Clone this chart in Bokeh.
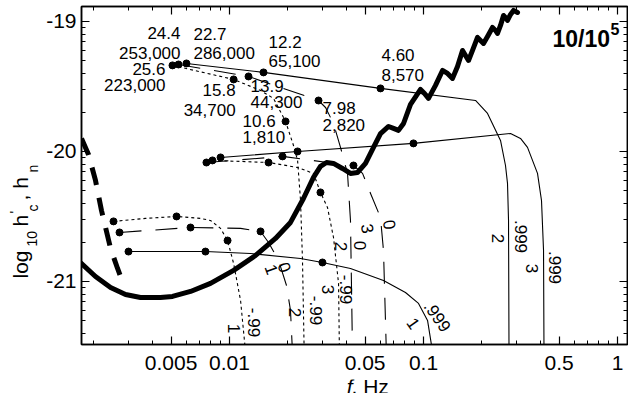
import math
from bokeh.plotting import figure
from bokeh.layouts import row, column
from bokeh.models import (FixedTicker, LinearAxis, LogAxis, Label, Range1d,
                          CustomJSTickFormatter)
from bokeh.embed import file_html
from bokeh.resources import INLINE

# ---------------- data (f in Hz, log10 h) ----------------
# detector sensitivity curve (thick solid)
noise_f = [0.001726, 0.002038, 0.002437, 0.002911, 0.003475, 0.004406, 0.005082, 0.006295,
           0.007979, 0.0105, 0.01362, 0.01726, 0.02062, 0.02405, 0.0271, 0.02943, 0.03162,
           0.03436, 0.03821, 0.04203, 0.04567, 0.05023, 0.05523, 0.06001, 0.06603, 0.07006,
           0.0743, 0.07889, 0.0857, 0.0965, 0.1012, 0.1061, 0.1153, 0.1253, 0.133, 0.1411,
           0.1497, 0.1589, 0.1646, 0.1706, 0.1789, 0.1898, 0.1967, 0.2038, 0.2138, 0.2268,
           0.235, 0.2406, 0.2494, 0.2585, 0.2646, 0.271, 0.2809, 0.2911, 0.3052]
noise_h = [-20.862, -20.962, -21.046, -21.1, -21.123, -21.123, -21.115, -21.077,
           -21.015, -20.915, -20.8, -20.669, -20.546, -20.362, -20.2, -20.115, -20.085,
           -20.092, -20.131, -20.169, -20.162, -20.092, -19.969, -19.862, -19.808, -19.823,
           -19.838, -19.785, -19.638, -19.523, -19.554, -19.592, -19.492, -19.377, -19.4, -19.438,
           -19.346, -19.223, -19.262, -19.3, -19.223, -19.123, -19.146, -19.169, -19.115, -19.046,
           -19.069, -19.092, -19.031, -18.954, -18.969, -18.992, -18.946, -18.915, -18.931]

# confusion noise (thick dashed)
wd_f = [0.001726, 0.001875, 0.002038, 0.002188, 0.002437, 0.002648, 0.002807]
wd_h = [-19.9, -20.023, -20.223, -20.454, -20.746, -20.9, -21.0]

# harmonic n, spin a (.999 solid, 0 long dash, -.99 dotted)
n1_a999_f = [0.003015, 0.007516, 0.01283, 0.02323, 0.03013, 0.04203, 0.06219, 0.08072, 0.09425, 0.1049, 0.1130]
n1_a999_h = [-20.77, -20.77, -20.785, -20.823, -20.854, -20.90, -20.992, -21.085, -21.169, -21.30, -21.60]
n1_a0_f = [0.00271, 0.006295, 0.0114, 0.01445, 0.01589, 0.0179, 0.01967, 0.02062, 0.0212]
n1_a0_h = [-20.623, -20.585, -20.592, -20.615, -20.70, -20.838, -21.031, -21.223, -21.60]
n1_am99_f = [0.002524, 0.003689, 0.005333, 0.007096, 0.007979, 0.00899, 0.009772, 0.0105, 0.0114, 0.0122]
n1_am99_h = [-20.538, -20.515, -20.50, -20.515, -20.531, -20.592, -20.685, -20.862, -21.146, -21.60]

n2_a999_f = [0.005998, 0.01497, 0.06001, 0.1854, 0.2138, 0.2494, 0.2646, 0.271, 0.2743, 0.2760]
n2_a999_h = [-19.323, -19.392, -19.515, -19.608, -19.708, -19.915, -20.108, -20.246, -20.531, -21.60]
n2_a0_f = [0.005458, 0.01253, 0.02876, 0.03126, 0.03436, 0.03733, 0.04058, 0.04203, 0.0431]
n2_a0_h = [-19.331, -19.423, -19.608, -19.662, -19.785, -19.969, -20.169, -20.531, -21.60]
n2_am99_f = [0.005082, 0.0105, 0.01445, 0.01686, 0.01945, 0.02137, 0.02243, 0.02323, 0.02378, 0.0243]
n2_am99_h = [-19.338, -19.446, -19.531, -19.592, -19.769, -19.954, -20.069, -20.377, -20.838, -21.60]

n3_a999_f = [0.00899, 0.02243, 0.08875, 0.2809, 0.3162, 0.3436, 0.3869, 0.4057, 0.4156, 0.418]
n3_a999_h = [-20.046, -20.0, -19.938, -19.862, -19.90, -19.969, -20.169, -20.377, -20.762, -21.60]
n3_a0_f = [0.007603, 0.01876, 0.03199, 0.04356, 0.0485, 0.05333, 0.06001, 0.06219, 0.0645]
n3_a0_h = [-20.085, -20.038, -20.085, -20.108, -20.169, -20.323, -20.508, -20.762, -21.60]
n3_am99_f = [0.008166, 0.01589, 0.02243, 0.0271, 0.02943, 0.03199, 0.03436, 0.03648, 0.0369]
n3_am99_h = [-20.069, -20.085, -20.123, -20.169, -20.315, -20.431, -20.662, -21.015, -21.60]

# which points of each track carry a dot
n1_a999_dots = [0, 1, 4]
n1_a0_dots = [0, 1, 3]
n1_am99_dots = [0, 2, 6]
n2_a999_dots = [0, 1, 2]
n2_a0_dots = [0, 1, 2]
n2_am99_dots = [0, 1, 4]
n3_a999_dots = [0, 1, 2]
n3_a0_dots = [0, 1, 3]
n3_am99_dots = [0, 1, 4]

# dot annotations of the n=2 tracks (years, cycles)
n2_a999_time = ["22.7", "12.2", "4.60"]
n2_a999_cycles = ["286,000", "65,100", "8,570"]
n2_a0_time = ["24.4", "13.9", "7.98"]
n2_a0_cycles = ["253,000", "44,300", "2,820"]
n2_am99_time = ["25.6", "15.8", "10.6"]
n2_am99_cycles = ["223,000", "34,700", "1,810"]

x_ticks = [0.005, 0.01, 0.05, 0.1, 0.5, 1]
y_ticks = [-21, -20, -19]
title_text = "10/10"
title_sup = "5"

# ---------------- layout ----------------
W, H = 628, 393
YLAB_W = 40          # strip holding the y-axis title
XLAB_H = 14          # strip holding the x-axis title
MAIN_H = H - XLAB_H
L, R, T, B = 81, 627, 6, 344      # frame edges in page pixels
LX0, LX1 = -2.763, 0.0515
Y0, Y1 = -21.485, -18.885
FONT = "Liberation Sans"


def px2f(px):
    return 10 ** (LX0 + (px - L) / (R - L) * (LX1 - LX0))


def py2h(py):
    return Y1 - (py - T) / (B - T) * (Y1 - Y0)


p = figure(width=W - YLAB_W, height=MAIN_H, x_axis_type="log",
           x_range=Range1d(10 ** LX0, 10 ** LX1), y_range=Range1d(Y0, Y1),
           output_backend="svg", toolbar_location=None, frame_align=False,
           min_border_left=L - YLAB_W, min_border_right=W - R,
           min_border_top=T, min_border_bottom=MAIN_H - B)
p.grid.visible = False
p.outline_line_color = "black"
p.outline_line_width = 1.5
p.background_fill_color = "white"
p.border_fill_color = "white"

x_minor = [k * 10.0 ** d for d in (-3, -2, -1, 0) for k in range(1, 10)]
y_minor = [d + math.log10(k) for d in (-22, -21, -20, -19) for k in range(2, 10)]


def style(ax):
    ax.axis_line_width = 1.5
    ax.axis_line_color = "black"
    ax.major_tick_in = 8
    ax.major_tick_out = 0
    ax.minor_tick_in = 4
    ax.minor_tick_out = 0
    ax.major_tick_line_width = 1.2
    ax.minor_tick_line_width = 1
    ax.major_label_text_font = FONT
    ax.major_label_text_font_size = "21px"
    ax.major_label_text_color = "black"


xa = p.xaxis[0]
style(xa)
xa.ticker = FixedTicker(ticks=x_ticks, minor_ticks=x_minor)
xa.formatter = CustomJSTickFormatter(code="return tick.toString()")
xa.major_label_standoff = 11

ya = p.yaxis[0]
style(ya)
ya.ticker = FixedTicker(ticks=y_ticks, minor_ticks=y_minor)
ya.formatter = CustomJSTickFormatter(code="return tick.toString()")
ya.major_label_standoff = 5

top = LogAxis(ticker=FixedTicker(ticks=x_ticks, minor_ticks=x_minor),
              formatter=CustomJSTickFormatter(code="return ''"))
style(top)
top.major_label_text_font_size = "0px"
top.major_label_standoff = 0
p.add_layout(top, "above")

right = LinearAxis(ticker=FixedTicker(ticks=y_ticks, minor_ticks=y_minor),
                   formatter=CustomJSTickFormatter(code="return ''"))
style(right)
right.major_label_text_font_size = "0px"
right.major_label_standoff = 0
p.add_layout(right, "right")

# ---------------- marks ----------------
p.line(noise_f, noise_h, line_width=5, color="black", line_join="round", line_cap="round")
p.line(wd_f, wd_h, line_width=5, color="black", line_dash="18 13")

dash = {"a999": "solid", "a0": "22 14", "am99": "3 3"}
tracks = [
    (n1_a999_f, n1_a999_h, n1_a999_dots, "a999"),
    (n1_a0_f, n1_a0_h, n1_a0_dots, "a0"),
    (n1_am99_f, n1_am99_h, n1_am99_dots, "am99"),
    (n2_a999_f, n2_a999_h, n2_a999_dots, "a999"),
    (n2_a0_f, n2_a0_h, n2_a0_dots, "a0"),
    (n2_am99_f, n2_am99_h, n2_am99_dots, "am99"),
    (n3_a999_f, n3_a999_h, n3_a999_dots, "a999"),
    (n3_a0_f, n3_a0_h, n3_a0_dots, "a0"),
    (n3_am99_f, n3_am99_h, n3_am99_dots, "am99"),
]
for fs, hs, idx, kind in tracks:
    p.line(fs, hs, line_width=1.1, color="black", line_dash=dash[kind])
    p.scatter([fs[i] for i in idx], [hs[i] for i in idx], size=7, color="black")

# dot annotations (pixel offsets: dx, dy line1, dy line2, align)
ann_sets = [
    (n2_a999_f, n2_a999_h, n2_a999_dots, n2_a999_time, n2_a999_cycles,
     [(7, -29, -10, "left"), (5, -30, -11, "left"), (1, -33, -13, "left")]),
    (n2_a0_f, n2_a0_h, n2_a0_dots, n2_a0_time, n2_a0_cycles,
     [(2, -31, -11, "right"), (2, 10, 26, "left"), (4, 8, 25, "left")]),
    (n2_am99_f, n2_am99_h, n2_am99_dots, n2_am99_time, n2_am99_cycles,
     [(-7, 4, 20, "right"), (2, 11, 31, "right"), (-43, 0, 16, "left")]),
]
for fs, hs, idx, times, cycles, offs in ann_sets:
    for j, i in enumerate(idx):
        dx, d1, d2, al = offs[j]
        for txt, dy in ((times[j], d1), (cycles[j], d2)):
            p.add_layout(Label(x=fs[i], y=hs[i], x_offset=dx, y_offset=-dy, text=txt,
                               text_font=FONT, text_font_size="17px", text_align=al,
                               text_baseline="middle", text_color="black"))

# curve labels (harmonic / spin), placed in page pixels
curve_labels = [
    (".999", 437, 316, -55), ("1", 413, 323, -55),
    ("2", 497, 238, -90), (".999", 520, 236, -90),
    ("3", 531, 268, -90), (".999", 554, 267, -90),
    ("3", 367, 228, -80), ("0", 389, 224, -80),
    ("2", 340, 246, -90), ("0", 359, 245, -90),
    ("3", 327, 289, -90), ("-.99", 345, 289, -90),
    ("2", 294, 312, -90), ("-.99", 315, 310, -90),
    ("1", 233, 328, -90), ("-.99", 253, 322, -90),
    ("1", 271, 269, -70), ("0", 284, 267, -70),
]
for txt, px, py, ang in curve_labels:
    p.add_layout(Label(x=px2f(px), y=py2h(py), text=txt, angle=math.radians(ang),
                       text_font=FONT, text_font_size="17px", text_align="center",
                       text_baseline="middle", text_color="black"))

# panel title 10/10^5
p.add_layout(Label(x=px2f(552), y=py2h(38), text=title_text, text_font=FONT,
                   text_font_size="23px", text_font_style="bold", text_align="left",
                   text_baseline="middle", text_color="black"))
p.add_layout(Label(x=px2f(610), y=py2h(28), text=title_sup, text_font=FONT,
                   text_font_size="16px", text_font_style="bold", text_align="left",
                   text_baseline="middle", text_color="black"))


def strip(w, h):
    f = figure(width=w, height=h, x_range=Range1d(0, w), y_range=Range1d(0, h),
               x_axis_location=None, y_axis_location=None, toolbar_location=None,
               output_backend="svg", title=None, frame_align=False,
               min_border_left=0, min_border_right=0, min_border_top=0, min_border_bottom=0)
    f.grid.visible = False
    f.outline_line_color = None
    f.background_fill_color = "white"
    f.border_fill_color = "white"
    return f


# y axis title: log10 h'c, hn (rotated pieces), page pixels
ylab = strip(YLAB_W, MAIN_H)
ylab_parts = [("log", 20, 278, "21px"), ("10", 31, 246, "14px"), ("h", 20, 226, "21px"),
              ("'", 14, 213, "14px"), ("c", 32, 211, "14px"), (", h", 20, 200, "21px"),
              ("n", 32, 172, "14px")]
for txt, px, py, fs in ylab_parts:
    ylab.add_layout(Label(x=px, y=MAIN_H - py, text=txt, angle=math.pi / 2,
                          text_font=FONT, text_font_size=fs, text_align="left",
                          text_baseline="middle", text_color="black"))

# x axis title: f, Hz (vertical centre of text box at page y 386)
xlab = strip(W, XLAB_H)
xlab.add_layout(Label(x=352, y=H - 386, text="f", text_font=FONT, text_font_size="21px",
                      text_font_style="italic", text_align="right",
                      text_baseline="middle", text_color="black"))
xlab.add_layout(Label(x=351, y=H - 386, text=", Hz", text_font=FONT, text_font_size="21px",
                      text_align="left", text_baseline="middle", text_color="black"))

layout = column(row(ylab, p, spacing=0), xlab, spacing=0)
open("out.html", "w").write(file_html(layout, INLINE))
